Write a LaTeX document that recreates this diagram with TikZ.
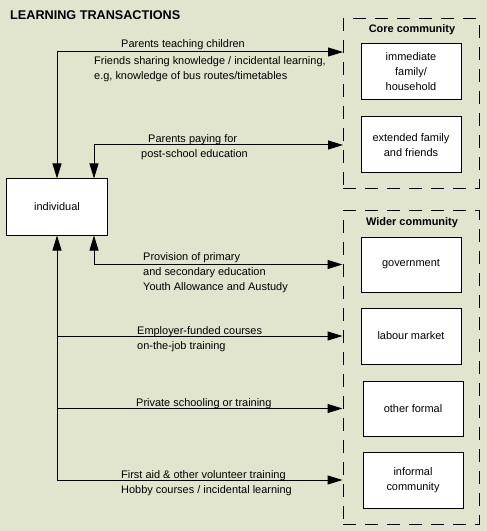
\documentclass[tikz,border=0pt]{standalone}
\usepackage{fontspec}
\setmainfont{Liberation Sans}
\usetikzlibrary{arrows.meta}
\definecolor{paper}{RGB}{225,229,206}

\begin{document}
\begin{tikzpicture}[x=1bp,y=-1bp,
        every node/.style={font=\fontsize{11}{15}\selectfont},
        head/.style={font=\fontsize{11}{15}\selectfont\bfseries,anchor=base},
        box/.style={draw,fill=white,line width=1bp,minimum width=100bp,minimum height=56bp,align=center,inner sep=0pt},
        area/.style={draw,dash pattern=on 13bp off 9bp,line width=1bp,minimum width=136bp,inner sep=0pt},
        txt/.style={anchor=base west,inner sep=0pt},
        arr/.style={line width=1bp,-{Triangle[length=15bp,width=9bp]}},
        both/.style={line width=1bp,{Triangle[length=15bp,width=9bp]}-{Triangle[length=15bp,width=9bp]}}]
        \useasboundingbox[fill=paper] (0,0) rectangle (487,531);
        \node[font=\fontsize{12.7}{15}\selectfont\bfseries,txt] (title) at (10,20) {LEARNING TRANSACTIONS};
        % the two communities
        \node[area,minimum height=169bp] (core) at (411,103.5) {};
        \node[area,minimum height=313bp] (wider) at (411,367.5) {};
        \node[head] (corelbl) at (412,33) {Core community};
        \node[head] (widerlbl) at (412,225) {Wider community};
        \node[box] (imm) at (411,72) {immediate\\family/\\household};
        \node[box] (ext) at (411,145) {extended family\\and friends};
        \node[box,minimum height=55bp] (gov) at (411,264.5) {government};
        \node[box] (lab) at (411,336) {labour market};
        \node[box,minimum height=55bp] (oth) at (413,408.5) {other formal};
        \node[box] (inf) at (413,480) {informal\\community};
        \node[box] (ind) at (57,207) {individual};
        % connectors
        \coordinate (c1) at (343,52);
        \coordinate (c2) at (343,145);
        \draw[both] (ind.north) |- (c1);
        \draw[both] ([xshift=37bp]ind.north) |- (c2);
        \draw[both] ([xshift=37bp]ind.south) |- (gov -| wider.west);
        \draw[both] (ind.south) |- (inf -| wider.west);
        \draw[arr] (ind.south |- lab) -- (lab -| wider.west);
        \draw[arr] (ind.south |- oth) -- (oth -| wider.west);
        % transactions
        \node[txt] (t1) at (121,48) {Parents teaching children};
        \node[txt] (t2) at (94,65) {Friends sharing knowledge / incidental learning,};
        \node[txt] (t3) at (94,80) {e.g, knowledge of bus routes/timetables};
        \node[txt] (t4) at (148,143) {Parents paying for};
        \node[txt] (t5) at (141,158) {post-school education};
        \node[txt] (t6) at (143,260) {Provision of primary};
        \node[txt] (t7) at (143,275) {and secondary education};
        \node[txt] (t8) at (143,290) {Youth Allowance and Austudy};
        \node[txt] (t9) at (137,334) {Employer-funded courses};
        \node[txt] (t10) at (137,349) {on-the-job training};
        \node[txt] (t11) at (136,406) {Private schooling or training};
        \node[txt] (t12) at (121,478) {First aid \& other volunteer training};
        \node[txt] (t13) at (121,493) {Hobby courses / incidental learning};
    \end{tikzpicture}
\end{document}
